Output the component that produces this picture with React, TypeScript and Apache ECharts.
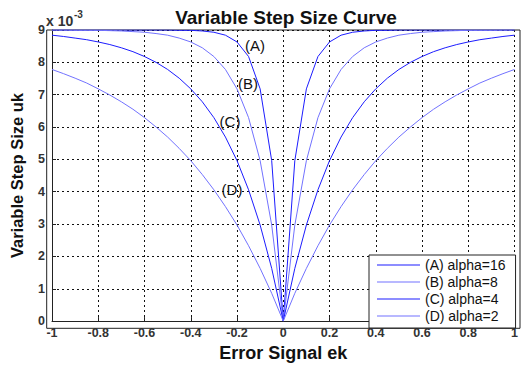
import React, { useEffect, useRef } from "react";
import * as echarts from "echarts";

const errorSignal = [
  -1, -0.95, -0.9, -0.85, -0.8, -0.75, -0.7, -0.65, -0.6, -0.55, -0.5, -0.45, -0.4, -0.35, -0.3, -0.25, -0.2, -0.15, -0.1, -0.05,
  0, 0.05, 0.1, 0.15, 0.2, 0.25, 0.3, 0.35, 0.4, 0.45, 0.5, 0.55, 0.6, 0.65, 0.7, 0.75, 0.8, 0.85, 0.9, 0.95, 1,
];

// step size values (x 10^-3)
const alpha16 = [
  9.0, 9.0, 9.0, 9.0, 9.0, 9.0, 9.0, 9.0, 9.0, 9.0, 9.0, 8.99, 8.99, 8.97, 8.93, 8.84, 8.63, 8.18, 7.18, 4.96,
  0, 4.96, 7.18, 8.18, 8.63, 8.84, 8.93, 8.97, 8.99, 8.99, 9.0, 9.0, 9.0, 9.0, 9.0, 9.0, 9.0, 9.0, 9.0, 9.0, 9.0,
];
const alpha8 = [
  9.0, 9.0, 8.99, 8.99, 8.99, 8.98, 8.97, 8.95, 8.93, 8.89, 8.84, 8.75, 8.63, 8.45, 8.18, 7.78, 7.18, 6.29, 4.96, 2.97,
  0, 2.97, 4.96, 6.29, 7.18, 7.78, 8.18, 8.45, 8.63, 8.75, 8.84, 8.89, 8.93, 8.95, 8.97, 8.98, 8.99, 8.99, 8.99, 9.0, 9.0,
];
const alpha4 = [
  8.84, 8.8, 8.75, 8.7, 8.63, 8.55, 8.45, 8.33, 8.18, 8.0, 7.78, 7.51, 7.18, 6.78, 6.29, 5.69, 4.96, 4.06, 2.97, 1.63,
  0, 1.63, 2.97, 4.06, 4.96, 5.69, 6.29, 6.78, 7.18, 7.51, 7.78, 8.0, 8.18, 8.33, 8.45, 8.55, 8.63, 8.7, 8.75, 8.8, 8.84,
];
const alpha2 = [
  7.78, 7.65, 7.51, 7.36, 7.18, 6.99, 6.78, 6.55, 6.29, 6.0, 5.69, 5.34, 4.96, 4.53, 4.06, 3.54, 2.97, 2.33, 1.63, 0.86,
  0, 0.86, 1.63, 2.33, 2.97, 3.54, 4.06, 4.53, 4.96, 5.34, 5.69, 6.0, 6.29, 6.55, 6.78, 6.99, 7.18, 7.36, 7.51, 7.65, 7.78,
];

const seriesNames = ["(A) alpha=16", "(B) alpha=8", "(C) alpha=4", "(D) alpha=2"];
const seriesValues = [alpha16, alpha8, alpha4, alpha2];
const seriesColors = ["#1c1cff", "#7272ff", "#1c1cff", "#7272ff"];

const curveLabels = [
  { text: "(A)", x: 255, y: 45 },
  { text: "(B)", x: 248, y: 83 },
  { text: "(C)", x: 230, y: 121 },
  { text: "(D)", x: 232, y: 189 },
];

const FONT = "'Liberation Sans', Arial, sans-serif";

export default function App() {
  const ref = useRef<HTMLDivElement>(null);
  useEffect(() => {
    if (!ref.current) return;
    const chart = echarts.init(ref.current, undefined, { renderer: "svg" });
    const fmt = (v: number) => String(parseFloat(v.toFixed(1)));
    chart.setOption({
      animation: false,
      backgroundColor: "#ffffff",
      textStyle: { fontFamily: FONT },
      title: {
        text: "Variable Step Size Curve",
        left: 281,
        textAlign: "center",
        top: 3,
        textStyle: { fontFamily: FONT, fontSize: 19, fontWeight: "bold", color: "#111" },
      },
      grid: { left: 46.7, right: 1, top: 30, bottom: 38.7, containLabel: false, show: false },
      legend: {
        orient: "vertical",
        left: 369,
        top: 255,
        data: seriesNames,
        itemWidth: 43,
        itemHeight: 1,
        itemGap: 1,
        padding: [2, 10, 4, 8],
        backgroundColor: "#fff",
        borderColor: "#222",
        borderWidth: 1,
        borderRadius: 0,
        icon: "rect",
        textStyle: { fontFamily: FONT, fontSize: 14, color: "#111", lineHeight: 16 },
      },
      xAxis: {
        type: "value",
        min: -1,
        max: 1,
        interval: 0.2,
        name: "Error Signal ek",
        nameLocation: "middle",
        nameGap: 21,
        nameTextStyle: { fontFamily: FONT, fontSize: 18, fontWeight: "bold", color: "#111" },
        axisLine: { show: true, onZero: false, lineStyle: { color: "#222", width: 1 } },
        axisTick: { show: true, inside: true, length: 4, lineStyle: { color: "#222" } },
        axisLabel: { formatter: fmt, fontFamily: FONT, fontSize: 12.5, fontWeight: "bold", color: "#333", margin: 5 },
        splitLine: { show: true, lineStyle: { color: "#111", type: [2, 3], width: 1 } },
      },
      yAxis: {
        type: "value",
        min: 0,
        max: 9,
        interval: 1,
        name: "Variable Step Size uk",
        nameLocation: "middle",
        nameGap: 27,
        nameTextStyle: { fontFamily: FONT, fontSize: 16.5, fontWeight: "bold", color: "#111" },
        axisLine: { show: true, onZero: false, lineStyle: { color: "#222", width: 1 } },
        axisTick: { show: true, inside: true, length: 4, lineStyle: { color: "#222" } },
        axisLabel: { fontFamily: FONT, fontSize: 12.5, fontWeight: "bold", color: "#333", margin: 7 },
        splitLine: { show: true, lineStyle: { color: "#111", type: [2, 3], width: 1 } },
      },
      graphic: [
        {
          type: "rect",
          shape: { x: 46.7, y: 30, width: 473.3, height: 298.3 },
          style: { fill: "none", stroke: "#222", lineWidth: 1 },
          silent: true,
          z: 0,
        },
        {
          type: "text",
          x: 46,
          y: 21,
          style: {
            text: "x 10",
            fontFamily: FONT,
            fontSize: 14,
            fontWeight: "bold",
            fill: "#333",
            align: "left",
            verticalAlign: "middle",
          },
        },
        {
          type: "text",
          x: 74,
          y: 14,
          style: {
            text: "-3",
            fontFamily: FONT,
            fontSize: 10,
            fontWeight: "bold",
            fill: "#333",
            align: "left",
            verticalAlign: "middle",
          },
        },
        ...curveLabels.map((l) => ({
          type: "text",
          x: l.x,
          y: l.y,
          style: {
            text: l.text,
            fontFamily: FONT,
            fontSize: 15,
            fill: "#111",
            align: "center",
            verticalAlign: "middle",
          },
          z: 100,
        })),
      ],
      series: seriesValues.map((vals, i) => ({
        name: seriesNames[i],
        type: "line",
        data: errorSignal.map((x, j) => [x, vals[j]]),
        showSymbol: false,
        symbol: "none",
        lineStyle: { color: seriesColors[i], width: 1 },
        itemStyle: { color: seriesColors[i] },
        z: 5,
      })),
    });
    return () => chart.dispose();
  }, []);
  return <div ref={ref} style={{ width: 521, height: 367, position: "absolute", left: 0, top: 0 }} />;
}
